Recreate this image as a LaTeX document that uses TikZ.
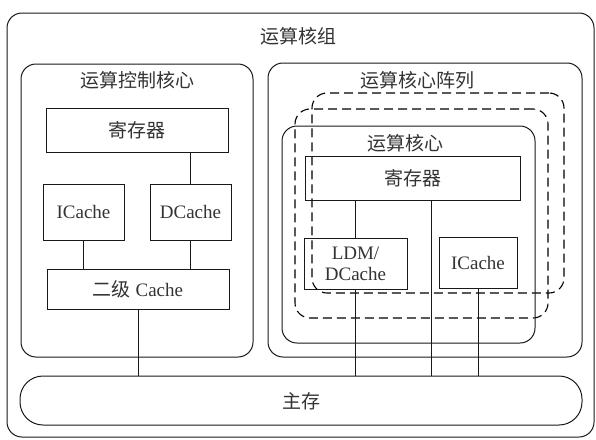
\documentclass[tikz,border=0pt]{standalone}
\usepackage{fontspec}
\setmainfont{Liberation Serif}
\newfontfamily\cjk{Noto Sans CJK SC}
\begin{document}
\begin{tikzpicture}[x=1pt,y=-1pt,
  every node/.style={font=\fontsize{19}{22}\selectfont, text=black!80},
  bx/.style={draw=black!90, line width=1pt, inner sep=0pt, outer sep=0pt},
  rbox/.style={bx, rounded corners=15pt},
  dbox/.style={bx, draw=black, rounded corners=15pt, line width=1.1pt, dash pattern=on 9pt off 5pt},
  lbl/.style={inner sep=0pt},
  conn/.style={draw=black!90, line width=1pt}]
\useasboundingbox (0,0) rectangle (596,439);
% containers
\node[rbox, minimum width=587pt, minimum height=424pt] (outer) at (300.5,225) {};
\node[rbox, minimum width=232pt, minimum height=293pt] (ctrl) at (137,210.5) {};
\node[rbox, minimum width=314pt, minimum height=294pt] (arr) at (425,210) {};
\node[dbox, minimum width=252pt, minimum height=200pt] (d1) at (438,193) {};
\node[dbox, minimum width=253pt, minimum height=209pt] (d2) at (421.5,213.5) {};
\node[rbox, minimum width=253pt, minimum height=217pt] (core) at (408.5,234.5) {};
% titles
\node[lbl] (t0) at (298,36) {\cjk 运算核组};
\node[lbl] (t1) at (137,80) {\cjk 运算控制核心};
\node[lbl] (t2) at (417,80) {\cjk 运算核心阵列};
\node[lbl] (t3) at (405,143) {\cjk 运算核心};
% control core
\node[bx, minimum width=182pt, minimum height=44pt] (reg1) at (137,130) {\cjk 寄存器};
\node[bx, minimum width=81pt, minimum height=56pt] (ic1) at (83.5,212) {ICache};
\node[bx, minimum width=81pt, minimum height=56pt] (dc1) at (190.5,212) {DCache};
\node[bx, minimum width=182pt, minimum height=40pt] (l2) at (138,289) {{\cjk 二级} Cache};
% compute core
\node[bx, minimum width=215pt, minimum height=44pt] (reg2) at (412.5,178) {\cjk 寄存器};
\node[bx, minimum width=103pt, minimum height=51pt, align=center, font=\fontsize{19}{21}\selectfont] (ldm) at (355.5,263.5) {LDM/\\DCache};
\node[bx, minimum width=78pt, minimum height=51pt] (ic2) at (478,262.5) {ICache};
% main memory
\node[bx, rounded corners=23pt, minimum width=562pt, minimum height=49pt] (mem) at (301,400.5) {};
\node[lbl] (memt) at (301,401) {\cjk 主存};
\coordinate (tap) at (431,200);
% connectors
\draw[conn] (reg1.south -| dc1.north) -- (dc1.north);
\draw[conn] (ic1.south) -- (ic1.south |- l2.north);
\draw[conn] (dc1.south) -- (dc1.south |- l2.north);
\draw[conn] (l2.south) -- (l2.south |- mem.north);
\draw[conn] (reg2.south -| ldm.north) -- (ldm.north);
\draw[conn] (reg2.south -| tap) -- (mem.north -| tap);
\draw[conn] (ldm.south) -- (ldm.south |- mem.north);
\draw[conn] (ic2.south) -- (ic2.south |- mem.north);
\end{tikzpicture}
\end{document}
